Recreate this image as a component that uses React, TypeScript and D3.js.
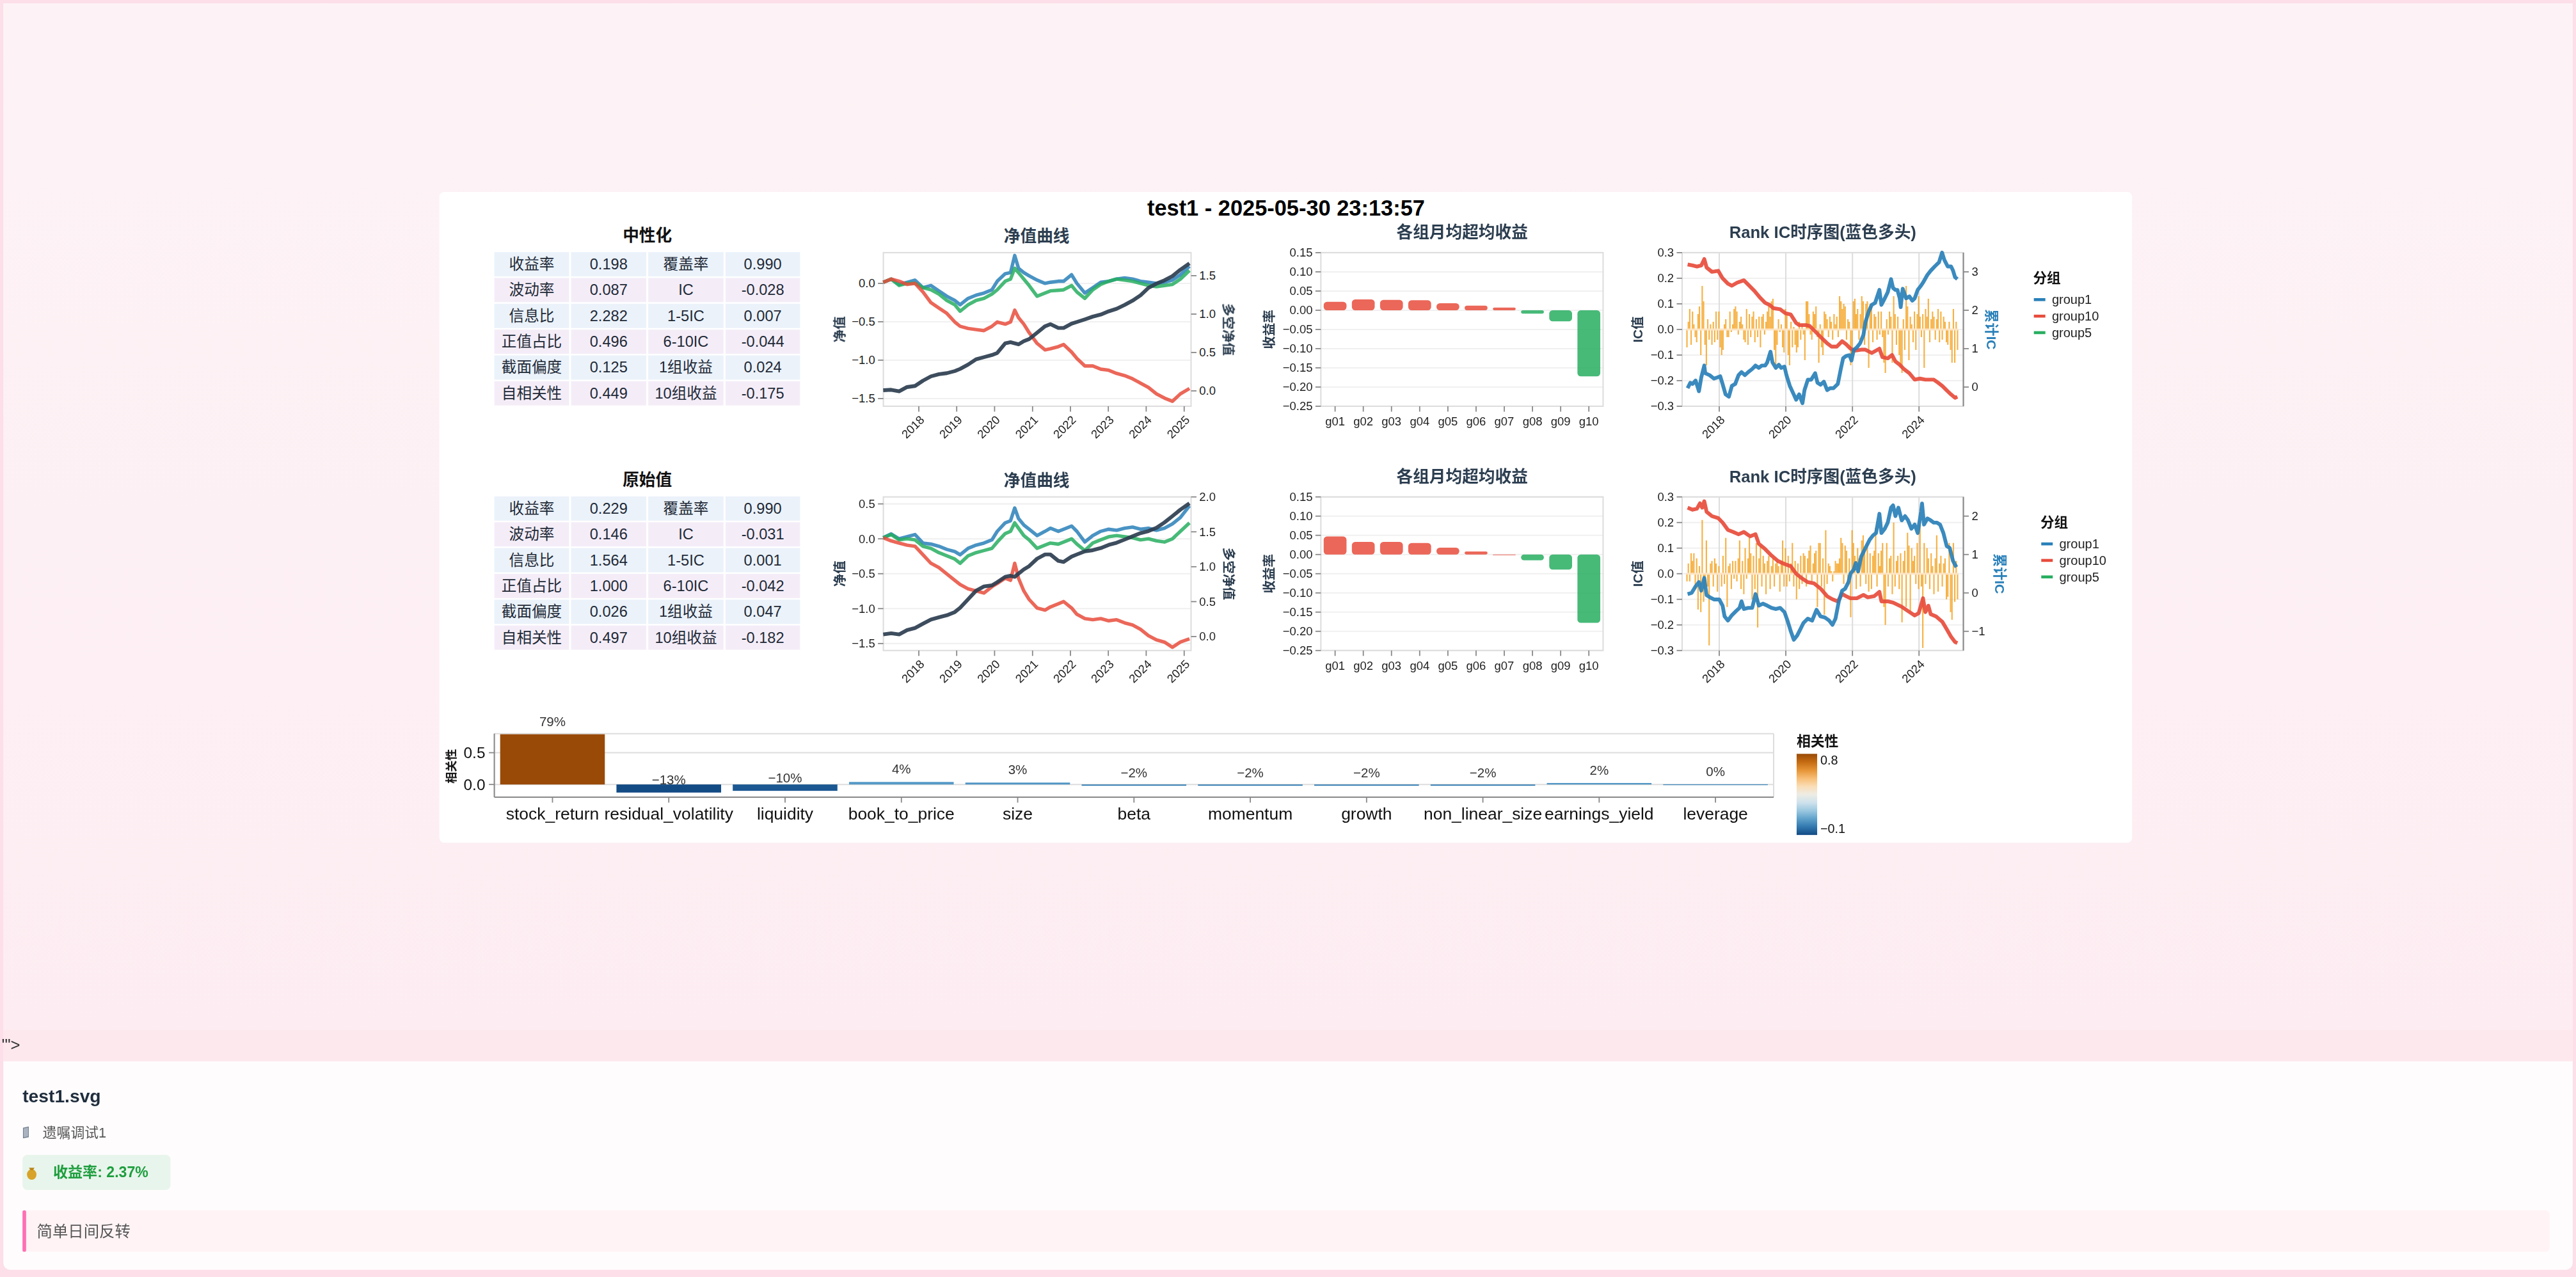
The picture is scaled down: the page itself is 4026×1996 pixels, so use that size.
import React from 'react';
import * as d3 from 'd3';

// 视图坐标（按截图缩放比例 4026/1568 放大）
const VW = 1568;
const VH = 777.38;
const FONT = "'Liberation Sans', Arial, 'Noto Sans CJK SC', sans-serif";
const PLOT_H = 93.5;
const ROW_TOPS = [153.8, 302.5];

// ---------------- 数据 ----------------
const mainTitle = 'test1 - 2025-05-30 23:13:57';

const statNamesA = ['收益率', '波动率', '信息比', '正值占比', '截面偏度', '自相关性'];
const statNamesB = ['覆盖率', 'IC', '1-5IC', '6-10IC', '1组收益', '10组收益'];
const neutralA = ['0.198', '0.087', '2.282', '0.496', '0.125', '0.449'];
const neutralB = ['0.990', '-0.028', '0.007', '-0.044', '0.024', '-0.175'];
const rawA = ['0.229', '0.146', '1.564', '1.000', '0.026', '0.497'];
const rawB = ['0.990', '-0.031', '0.001', '-0.042', '0.047', '-0.182'];

// 净值曲线（年份小数）
const navYears = [2017.06, 2017.27, 2017.48, 2017.69, 2017.9, 2018.11, 2018.32, 2018.53, 2018.74, 2018.95,
  2019.09, 2019.3, 2019.51, 2019.72, 2019.93, 2020.07, 2020.28, 2020.42, 2020.53, 2020.63,
  2020.77, 2020.91, 2021.12, 2021.33, 2021.47, 2021.68, 2021.82, 2022.03, 2022.17, 2022.38,
  2022.59, 2022.8, 2023.01, 2023.22, 2023.43, 2023.64, 2023.85, 2024.06, 2024.27, 2024.48,
  2024.69, 2024.9, 2025.14];

const navN_g1 = [0.014, 0.056, -0.014, 0.014, 0.042, -0.056, -0.028, -0.098, -0.168, -0.223, -0.279, -0.196, -0.154, -0.126, -0.084, 0.028, 0.126, 0.14, 0.363, 0.196, 0.14, 0.098, 0.042, 0.0, 0.014, 0.028, 0.028, 0.112, 0.0, -0.126, -0.056, 0.014, 0.028, 0.056, 0.07, 0.056, 0.028, 0.014, 0.0, 0.014, 0.042, 0.112, 0.223];
const navN_g5 = [0.014, 0.056, -0.028, 0, 0, -0.056, -0.084, -0.14, -0.223, -0.279, -0.363, -0.279, -0.223, -0.196, -0.14, -0.084, 0.028, 0.056, 0.196, 0.14, 0.056, -0.028, -0.168, -0.126, -0.098, -0.09, -0.084, -0.028, -0.112, -0.196, -0.084, -0.014, 0.028, 0.056, 0.042, 0.028, 0.0, -0.028, -0.042, -0.028, -0.014, 0.056, 0.168];
const navN_g10 = [0.014, 0.056, 0.028, -0.014, 0.0, -0.112, -0.251, -0.321, -0.391, -0.503, -0.559, -0.587, -0.601, -0.615, -0.559, -0.503, -0.531, -0.503, -0.349, -0.447, -0.531, -0.642, -0.782, -0.866, -0.852, -0.824, -0.796, -0.894, -0.978, -1.075, -1.075, -1.117, -1.131, -1.173, -1.201, -1.243, -1.299, -1.355, -1.439, -1.494, -1.536, -1.439, -1.369];
const navN_ls = [0.008, 0.014, -0.006, 0.05, 0.064, 0.133, 0.189, 0.217, 0.231, 0.258, 0.286, 0.342, 0.411, 0.439, 0.467, 0.494, 0.619, 0.633, 0.619, 0.606, 0.647, 0.675, 0.758, 0.842, 0.869, 0.819, 0.819, 0.875, 0.897, 0.931, 0.967, 0.994, 1.036, 1.069, 1.119, 1.175, 1.244, 1.342, 1.397, 1.439, 1.494, 1.578, 1.661];

const navR_g1 = [0.015, 0.07, 0, 0.03, 0.061, -0.061, -0.076, -0.107, -0.152, -0.183, -0.229, -0.137, -0.091, -0.061, -0.015, 0.107, 0.229, 0.259, 0.442, 0.29, 0.198, 0.137, 0.046, 0.107, 0.152, 0.107, 0.137, 0.183, 0.107, -0.046, 0.046, 0.107, 0.137, 0.122, 0.152, 0.168, 0.137, 0.152, 0.122, 0.152, 0.213, 0.305, 0.473];
const navR_g5 = [0.015, 0.061, -0.015, 0, -0.015, -0.107, -0.137, -0.198, -0.244, -0.29, -0.351, -0.244, -0.198, -0.168, -0.137, -0.046, 0.076, 0.107, 0.229, 0.152, 0.046, -0.015, -0.137, -0.091, -0.061, -0.076, -0.046, 0, -0.076, -0.168, -0.061, -0.015, 0.03, 0.046, 0.03, 0.015, -0.015, 0, -0.03, -0.046, 0, 0.107, 0.229];
const navR_g10 = [0.015, -0.03, -0.061, -0.091, -0.107, -0.229, -0.351, -0.412, -0.503, -0.595, -0.655, -0.716, -0.747, -0.777, -0.686, -0.64, -0.564, -0.595, -0.351, -0.564, -0.747, -0.869, -0.991, -1.021, -0.976, -0.93, -0.899, -0.991, -1.082, -1.143, -1.159, -1.143, -1.174, -1.159, -1.204, -1.235, -1.296, -1.387, -1.448, -1.479, -1.555, -1.479, -1.433];
const navR_ls = [0.031, 0.046, 0.031, 0.092, 0.122, 0.183, 0.244, 0.275, 0.305, 0.351, 0.412, 0.534, 0.656, 0.718, 0.733, 0.779, 0.855, 0.87, 0.855, 0.901, 0.962, 1.008, 1.115, 1.176, 1.176, 1.084, 1.069, 1.145, 1.176, 1.221, 1.237, 1.267, 1.313, 1.344, 1.389, 1.435, 1.481, 1.511, 1.557, 1.634, 1.725, 1.817, 1.908];

// 各组月均超均收益
const groupNames = ['g01', 'g02', 'g03', 'g04', 'g05', 'g06', 'g07', 'g08', 'g09', 'g10'];
const groupRetN = [0.022, 0.028, 0.027, 0.026, 0.018, 0.012, 0.007, -0.009, -0.029, -0.172];
const groupRetR = [0.047, 0.033, 0.033, 0.03, 0.018, 0.008, 0.0, -0.015, -0.039, -0.178];

// Rank IC（半月一期，起点 2017.03）
const icStart = 2017.03;
const icPerYear = 24;
const icN = [
  -0.07, 0.03, 0.08, -0.06, 0.07, 0.02, -0.03, -0.05, 0.06, 0.09, -0.1, 0.17, 0.11, -0.06, -0.14, 0.04, -0.04, 0.02, -0.06, 0.03, -0.05, 0.07, -0.04, 0.07,
  -0.07, -0.1, -0.08, 0.02, 0.04, -0.03, -0.03, 0.07, -0.01, 0.02, 0.08, 0.09, 0.07, -0.02, 0.03, 0.05, 0.02, -0.04, -0.05, 0.08, -0.06, 0.06, -0.03, 0.05,
  0.07, -0.05, 0.04, -0.03, 0.05, -0.07, 0.05, 0.06, -0.02, 0.03, 0.07, 0.09, 0.05, 0.11, 0.12, -0.08, -0.14, -0.06, 0.04, -0.01, 0.02, -0.07, -0.09, 0.08,
  0.06, -0.1, -0.14, 0.03, -0.07, 0.01, -0.06, -0.09, -0.07, 0.03, -0.04, 0.02, -0.02, -0.12, 0.11, 0.11, 0.06, -0.02, -0.04, 0.07, 0.06, 0.09, -0.03, -0.13,
  0.02, -0.07, -0.1, 0.07, 0.06, 0.04, -0.03, 0.05, 0.03, -0.04, 0.06, 0.02, 0.05, -0.03, 0.13, 0.11, 0.08, 0.1, 0.09, -0.04, 0.04, 0.03, -0.14, -0.1,
  0.11, 0.12, 0.06, 0.08, -0.04, 0.06, 0.13, 0.11, -0.06, 0.1, 0.11, -0.15, 0.1, 0.09, -0.05, 0.06, 0.05, -0.04, 0.07, -0.02, 0.07, -0.03, -0.13, -0.17,
  0.04, -0.02, 0.07, 0.05, -0.13, 0.13, 0.06, -0.06, 0.05, -0.1, -0.15, -0.17, 0.04, -0.08, 0.17, 0.09, -0.12, 0.05, 0.02, -0.05, 0.07, -0.08, 0.06, 0.13,
  0.05, -0.03, 0.06, -0.15, 0.08, 0.05, 0.12, -0.05, 0.04, 0.07, 0.05, -0.04, 0.04, 0.08, -0.05, 0.07, -0.04, 0.05, 0.03, -0.05, -0.06, 0.03, -0.08, -0.13,
  0.08, -0.13, 0.03, -0.08,
];
const icR = [
  -0.03, 0.04, -0.03, 0.08, 0.05, 0.08, -0.06, 0.06, -0.14, 0.03, -0.15, 0.21, -0.11, -0.06, 0.13, -0.05, -0.28, 0.04, 0.05, -0.05, 0.06, 0.04, -0.07, 0.03,
  0.0, -0.05, 0.07, -0.04, 0.14, -0.13, 0.03, 0.04, -0.06, 0.05, -0.02, 0.05, -0.03, 0.06, 0.13, -0.06, 0.05, -0.08, 0.1, -0.02, 0.06, 0.14, 0.08, -0.1,
  0.07, -0.06, 0.12, -0.21, 0.06, 0.11, -0.05, 0.07, 0.04, -0.08, 0.05, 0.07, -0.06, 0.03, 0.06, -0.05, 0.04, 0.05, 0.03, -0.07, 0.05, 0.13, -0.05, 0.1,
  -0.05, 0.07, -0.03, 0.04, 0.12, -0.05, 0.05, -0.1, 0.04, -0.06, 0.07, -0.04, 0.08, 0.07, -0.05, 0.06, 0.09, 0.11, -0.03, 0.04, 0.08, 0.09, -0.13, 0.12,
  0.12, -0.05, 0.06, -0.16, 0.17, -0.04, 0.04, 0.03, 0.01, -0.03, 0.01, 0.05, 0.04, 0.04, 0.06, 0.14, 0.12, -0.04, 0.11, 0.09, -0.04, 0.06, -0.17, 0.17,
  0.12, 0.07, -0.06, 0.1, 0.06, -0.05, 0.13, 0.15, 0.1, -0.04, 0.12, -0.07, 0.08, -0.06, 0.07, 0.09, 0.18, -0.05, 0.08, 0.03, 0.09, 0.12, -0.13, -0.2,
  0.12, -0.05, 0.06, 0.07, -0.08, 0.2, -0.05, 0.05, 0.07, -0.06, 0.08, -0.19, 0.05, 0.09, -0.13, 0.16, 0.11, -0.15, 0.1, 0.05, 0.07, -0.04, 0.12, -0.06,
  0.19, -0.05, -0.29, 0.12, -0.04, 0.1, 0.06, -0.06, 0.08, 0.03, -0.08, 0.06, 0.15, -0.07, 0.04, 0.07, -0.05, 0.04, 0.06, -0.1, -0.09, 0.12, -0.15, -0.18,
  0.12, -0.11, 0.05, -0.1,
];

// 累计IC（右轴）与红线（左轴）：[年份, 值]
const cumIcN: [number, number][] = [[2017.05, -0.03], [2017.13, 0.11], [2017.2, 0.08], [2017.29, 0.17], [2017.39, -0.11], [2017.46, 0.25], [2017.55, 0.56], [2017.58, 0.36], [2017.71, 0.31], [2017.84, 0.22], [2017.94, 0.25], [2018.03, 0.28], [2018.1, 0.08], [2018.19, -0.19], [2018.29, -0.25], [2018.38, 0.03], [2018.48, 0.08], [2018.58, 0.31], [2018.67, 0.39], [2018.77, 0.31], [2018.87, 0.39], [2018.99, 0.47], [2019.09, 0.56], [2019.19, 0.5], [2019.28, 0.56], [2019.38, 0.56], [2019.44, 0.64], [2019.54, 0.92], [2019.6, 0.64], [2019.7, 0.5], [2019.79, 0.58], [2019.86, 0.5], [2019.96, 0.53], [2020.02, 0.31], [2020.12, 0.03], [2020.21, -0.14], [2020.31, -0.33], [2020.4, -0.19], [2020.5, -0.42], [2020.56, -0.08], [2020.66, 0.19], [2020.76, 0.19], [2020.88, 0.36], [2020.95, 0.11], [2021.04, 0.06], [2021.14, 0.14], [2021.24, -0.08], [2021.33, -0.03], [2021.43, -0.03], [2021.56, 0.08], [2021.65, 0.47], [2021.72, 0.75], [2021.81, 0.81], [2021.91, 0.83], [2021.97, 0.69], [2022.04, 0.97], [2022.13, 1.03], [2022.23, 1.14], [2022.33, 1.36], [2022.39, 1.69], [2022.49, 1.97], [2022.58, 2.14], [2022.68, 2.19], [2022.81, 2.53], [2022.87, 2.14], [2022.97, 2.31], [2023.06, 2.47], [2023.16, 2.81], [2023.22, 2.58], [2023.29, 2.53], [2023.35, 2.53], [2023.42, 2.31], [2023.45, 2.08], [2023.51, 2.56], [2023.61, 2.31], [2023.71, 2.36], [2023.8, 2.25], [2023.87, 2.31], [2023.96, 2.53], [2024.06, 2.64], [2024.12, 2.72], [2024.25, 2.92], [2024.35, 3.03], [2024.47, 3.14], [2024.6, 3.25], [2024.69, 3.5], [2024.76, 3.31], [2024.86, 3.14], [2024.96, 3.14], [2025.02, 3.03], [2025.08, 2.86], [2025.15, 2.81]];
const redIcN: [number, number][] = [[2017.05, 0.254], [2017.2, 0.25], [2017.33, 0.246], [2017.46, 0.25], [2017.55, 0.275], [2017.62, 0.242], [2017.78, 0.225], [2017.97, 0.229], [2018.1, 0.2], [2018.26, 0.179], [2018.38, 0.171], [2018.54, 0.183], [2018.74, 0.192], [2018.87, 0.175], [2019.06, 0.15], [2019.22, 0.125], [2019.38, 0.104], [2019.51, 0.096], [2019.63, 0.083], [2019.83, 0.079], [2019.99, 0.063], [2020.15, 0.058], [2020.31, 0.025], [2020.4, 0.017], [2020.6, 0.017], [2020.72, 0.013], [2020.85, -0.004], [2021.04, -0.029], [2021.24, -0.054], [2021.37, -0.067], [2021.53, -0.067], [2021.69, -0.046], [2021.81, -0.058], [2021.94, -0.075], [2022.07, -0.083], [2022.26, -0.079], [2022.39, -0.079], [2022.58, -0.092], [2022.81, -0.075], [2022.9, -0.108], [2023.06, -0.113], [2023.19, -0.1], [2023.29, -0.125], [2023.42, -0.138], [2023.54, -0.154], [2023.71, -0.171], [2023.87, -0.196], [2024.03, -0.192], [2024.19, -0.196], [2024.44, -0.196], [2024.57, -0.208], [2024.7, -0.221], [2024.83, -0.238], [2024.96, -0.254], [2025.08, -0.267], [2025.15, -0.263]];
const cumIcR: [number, number][] = [[2017.05, -0.03], [2017.17, 0.0], [2017.29, 0.17], [2017.39, 0.28], [2017.46, 0.06], [2017.55, 0.39], [2017.62, -0.06], [2017.71, -0.11], [2017.84, -0.17], [2018.0, -0.17], [2018.1, -0.33], [2018.16, -0.61], [2018.26, -0.72], [2018.38, -0.58], [2018.51, -0.47], [2018.61, -0.39], [2018.67, -0.22], [2018.74, -0.42], [2018.87, -0.39], [2018.99, -0.39], [2019.09, -0.03], [2019.19, -0.33], [2019.31, -0.28], [2019.44, -0.33], [2019.57, -0.39], [2019.7, -0.42], [2019.83, -0.39], [2019.96, -0.5], [2020.05, -0.72], [2020.15, -1.0], [2020.24, -1.22], [2020.34, -1.11], [2020.44, -0.94], [2020.53, -0.78], [2020.66, -0.67], [2020.79, -0.72], [2020.92, -0.44], [2021.04, -0.61], [2021.17, -0.64], [2021.3, -0.72], [2021.4, -0.83], [2021.49, -0.67], [2021.59, -0.22], [2021.69, 0.06], [2021.78, 0.11], [2021.88, 0.28], [2021.94, 0.5], [2022.04, 0.61], [2022.1, 0.78], [2022.17, 0.56], [2022.26, 0.94], [2022.39, 1.17], [2022.52, 1.39], [2022.62, 1.5], [2022.71, 1.56], [2022.81, 2.06], [2022.87, 1.56], [2022.97, 1.67], [2023.06, 1.83], [2023.16, 2.22], [2023.22, 2.28], [2023.29, 2.0], [2023.38, 2.22], [2023.48, 1.89], [2023.58, 2.0], [2023.67, 1.89], [2023.77, 1.67], [2023.87, 1.78], [2023.96, 1.56], [2024.06, 2.11], [2024.09, 2.33], [2024.15, 1.78], [2024.25, 1.94], [2024.35, 1.89], [2024.44, 1.83], [2024.54, 1.83], [2024.63, 1.78], [2024.73, 1.56], [2024.83, 1.22], [2024.92, 1.17], [2025.02, 0.83], [2025.12, 0.67]];
const redIcR: [number, number][] = [[2017.05, 0.258], [2017.2, 0.25], [2017.33, 0.254], [2017.42, 0.275], [2017.49, 0.258], [2017.55, 0.283], [2017.62, 0.242], [2017.78, 0.225], [2017.97, 0.217], [2018.1, 0.2], [2018.26, 0.171], [2018.42, 0.163], [2018.58, 0.154], [2018.74, 0.163], [2018.93, 0.146], [2019.09, 0.154], [2019.19, 0.117], [2019.38, 0.096], [2019.57, 0.071], [2019.76, 0.05], [2019.96, 0.038], [2020.15, 0.029], [2020.31, 0.0], [2020.47, -0.017], [2020.66, -0.033], [2020.85, -0.038], [2021.04, -0.058], [2021.24, -0.088], [2021.4, -0.1], [2021.56, -0.108], [2021.69, -0.079], [2021.81, -0.088], [2021.94, -0.096], [2022.13, -0.096], [2022.33, -0.083], [2022.46, -0.092], [2022.65, -0.088], [2022.81, -0.071], [2022.87, -0.108], [2023.06, -0.108], [2023.22, -0.113], [2023.35, -0.121], [2023.48, -0.129], [2023.67, -0.146], [2023.87, -0.163], [2023.99, -0.154], [2024.12, -0.096], [2024.19, -0.15], [2024.28, -0.125], [2024.35, -0.158], [2024.51, -0.167], [2024.7, -0.188], [2024.83, -0.217], [2024.96, -0.246], [2025.08, -0.267], [2025.15, -0.271]];

const legendNames = ['group1', 'group10', 'group5'];

// 风格因子相关性
const factorNames = ['stock_return', 'residual_volatility', 'liquidity', 'book_to_price', 'size', 'beta', 'momentum', 'growth', 'non_linear_size', 'earnings_yield', 'leverage'];
const factorCorr = [0.79, -0.127, -0.1, 0.04, 0.03, -0.02, -0.02, -0.02, -0.02, 0.023, 0.003];

// ---------------- 样式 ----------------
const C_BLUE = '#2980b9';
const C_RED = '#e74c3c';
const C_GREEN = '#27ae60';
const C_DARK = '#2c3e50';
const C_ORANGE = '#f39c12';
const legendColors = [C_BLUE, C_RED, C_GREEN];
const blueOrange = ['#134b85', '#2f78b3', '#5da2cb', '#9dcae1', '#d2e5ef', '#f2f0eb', '#fce0ba', '#fbbf74', '#e8932f', '#c5690d', '#994a07'];

const TICK = '#888';
const LABEL = '#222';

function toDate(y: number) {
  const yr = Math.floor(y);
  const s = Date.UTC(yr, 0, 1);
  const e = Date.UTC(yr + 1, 0, 1);
  return new Date(s + (y - yr) * (e - s));
}

const f1 = d3.format('.1f');
const f2 = d3.format('.2f');
const fpct = d3.format('.0%');

// 统计表
function StatTable({ top, title, a, b }: { top: number; title: string; a: string[]; b: string[] }) {
  const cols = [300.3, 347, 394, 441, 487.6];
  const rowH = 15.72;
  const y0 = top - 0.8;
  return (
    <g>
      <text x={394} y={top - 10.4} textAnchor="middle" dominantBaseline="central" fontSize={10} fontWeight={700} fill="#111">{title}</text>
      {statNamesA.map((n, i) => {
        const y = y0 + i * rowH;
        const fill = i % 2 === 0 ? '#ebf2fa' : '#f4edf8';
        const cells = [n, a[i], statNamesB[i], b[i]];
        return (
          <g key={i}>
            {cells.map((c, j) => (
              <g key={j}>
                <rect x={cols[j] + 0.6} y={y + 0.5} width={cols[j + 1] - cols[j] - 1.2} height={rowH - 1} fill={fill} />
                <text x={(cols[j] + cols[j + 1]) / 2} y={y + rowH / 2} textAnchor="middle" dominantBaseline="central" fontSize={9.2} fill="#1f2a37">{c}</text>
              </g>
            ))}
          </g>
        );
      })}
    </g>
  );
}

// 净值曲线
function NetChart({ top, g1, g5, g10, ls, yDom, yTicks, y2Dom, y2Ticks }: any) {
  const L = 537.7, R = 725, B = top + PLOT_H;
  const x = d3.scaleUtc().domain([toDate(2017.064), toDate(2025.182)]).range([L, R]);
  const y = d3.scaleLinear().domain(yDom).range([B, top]);
  const y2 = d3.scaleLinear().domain(y2Dom).range([B, top]);
  const mk = (sc: any) => d3.line<number>().x((_, i) => x(toDate(navYears[i]))).y((v) => sc(v));
  const years = x.ticks(d3.utcYear.every(1) as any);
  const cy = (top + B) / 2;
  return (
    <g>
      <text x={631} y={top - 10} textAnchor="middle" dominantBaseline="central" fontSize={10} fontWeight={700} fill={C_DARK}>净值曲线</text>
      {yTicks.map((t: number) => <line key={t} x1={L} x2={R} y1={y(t)} y2={y(t)} stroke="#f0f0f0" strokeWidth={0.8} />)}
      <rect x={L} y={top} width={R - L} height={PLOT_H} fill="none" stroke="#ddd" strokeWidth={0.8} />
      <path d={mk(y)(g1) || ''} fill="none" stroke={C_BLUE} strokeWidth={2.1} strokeOpacity={0.85} strokeLinejoin="round" />
      <path d={mk(y)(g5) || ''} fill="none" stroke={C_GREEN} strokeWidth={2.1} strokeOpacity={0.85} strokeLinejoin="round" />
      <path d={mk(y)(g10) || ''} fill="none" stroke={C_RED} strokeWidth={2.1} strokeOpacity={0.85} strokeLinejoin="round" />
      <path d={mk(y2)(ls) || ''} fill="none" stroke={C_DARK} strokeWidth={2.3} strokeOpacity={0.92} strokeLinejoin="round" />
      {yTicks.map((t: number) => (
        <g key={'l' + t}>
          <line x1={L - 3.3} x2={L} y1={y(t)} y2={y(t)} stroke={TICK} strokeWidth={0.7} />
          <text x={L - 5} y={y(t)} textAnchor="end" dominantBaseline="central" fontSize={7.2} fill={LABEL}>{f1(t)}</text>
        </g>
      ))}
      {y2Ticks.map((t: number) => (
        <g key={'r' + t}>
          <line x1={R} x2={R + 3.3} y1={y2(t)} y2={y2(t)} stroke={TICK} strokeWidth={0.7} />
          <text x={R + 5} y={y2(t)} dominantBaseline="central" fontSize={7.2} fill={LABEL}>{f1(t)}</text>
        </g>
      ))}
      {years.map((d) => (
        <g key={+d}>
          <line x1={x(d)} x2={x(d)} y1={B} y2={B + 3.3} stroke={TICK} strokeWidth={0.7} />
          <text transform={`translate(${x(d) + 2},${B + 7}) rotate(-45)`} textAnchor="end" dy="0.35em" fontSize={7.2} fill={LABEL}>{d3.utcFormat('%Y')(d)}</text>
        </g>
      ))}
      <text transform={`translate(511,${cy}) rotate(-90)`} textAnchor="middle" dominantBaseline="central" fontSize={8} fontWeight={700} fill={C_DARK}>净值</text>
      <text transform={`translate(747.8,${cy}) rotate(90)`} textAnchor="middle" dominantBaseline="central" fontSize={8} fontWeight={700} fill={C_DARK}>多空净值</text>
    </g>
  );
}

// 各组月均超均收益
function GroupBars({ top, values }: { top: number; values: number[] }) {
  const L = 804, R = 975.8, B = top + PLOT_H;
  const x = d3.scaleBand().domain(groupNames).range([L, R]).paddingInner(0.19).paddingOuter(0.1);
  const y = d3.scaleLinear().domain([-0.25, 0.15]).range([B, top]);
  const ticks = d3.range(-0.25, 0.1501, 0.05);
  const cy = (top + B) / 2;
  return (
    <g>
      <text x={890} y={top - 12.3} textAnchor="middle" dominantBaseline="central" fontSize={10} fontWeight={700} fill={C_DARK}>各组月均超均收益</text>
      {ticks.map((t) => <line key={t} x1={L} x2={R} y1={y(t)} y2={y(t)} stroke="#f0f0f0" strokeWidth={0.8} />)}
      <rect x={L} y={top} width={R - L} height={PLOT_H} fill="none" stroke="#ddd" strokeWidth={0.8} />
      {values.map((v, i) => {
        const g = groupNames[i];
        const y0 = Math.min(y(v), y(0));
        const h = Math.max(0.4, Math.abs(y(v) - y(0)));
        return <rect key={g} x={x(g)} y={y0} width={x.bandwidth()} height={h} rx={Math.min(2, h / 2)} fill={v >= 0 ? C_RED : C_GREEN} fillOpacity={0.85} />;
      })}
      {ticks.map((t) => (
        <g key={'t' + t}>
          <line x1={L - 3.3} x2={L} y1={y(t)} y2={y(t)} stroke={TICK} strokeWidth={0.7} />
          <text x={L - 5} y={y(t)} textAnchor="end" dominantBaseline="central" fontSize={7.2} fill={LABEL}>{f2(t)}</text>
        </g>
      ))}
      {groupNames.map((g) => {
        const cx = (x(g) || 0) + x.bandwidth() / 2;
        return (
          <g key={'x' + g}>
            <line x1={cx} x2={cx} y1={B} y2={B + 3.3} stroke={TICK} strokeWidth={0.7} />
            <text x={cx} y={B + 9.2} textAnchor="middle" dominantBaseline="central" fontSize={7.2} fill={LABEL}>{g}</text>
          </g>
        );
      })}
      <text transform={`translate(772.7,${cy}) rotate(-90)`} textAnchor="middle" dominantBaseline="central" fontSize={8} fontWeight={700} fill={C_DARK}>收益率</text>
    </g>
  );
}

// Rank IC 时序图
function ICChart({ top, ic, cum, red, y2Dom, y2Ticks, titleX, legendX }: any) {
  const L = 1023.9, R = 1195.1, B = top + PLOT_H;
  const x = d3.scaleUtc().domain([toDate(2016.885), toDate(2025.33)]).range([L, R]);
  const y = d3.scaleLinear().domain([-0.3, 0.3]).range([B, top]);
  const y2 = d3.scaleLinear().domain(y2Dom).range([B, top]);
  const yTicks = [-0.3, -0.2, -0.1, 0, 0.1, 0.2, 0.3];
  const years = x.ticks(d3.utcYear.every(2) as any);
  const bx = (i: number) => x(toDate(icStart + i / icPerYear));
  const lineL = d3.line<[number, number]>().x((d) => x(toDate(d[0]))).y((d) => y(d[1]));
  const lineR = d3.line<[number, number]>().x((d) => x(toDate(d[0]))).y((d) => y2(d[1]));
  const cy = (top + B) / 2;
  return (
    <g>
      <text x={1109.5} y={top - 12.3} textAnchor="middle" dominantBaseline="central" fontSize={10} fontWeight={700} fill={C_DARK}>Rank IC时序图(蓝色多头)</text>
      {yTicks.map((t) => <line key={t} x1={L} x2={R} y1={y(t)} y2={y(t)} stroke="#f0f0f0" strokeWidth={0.8} />)}
      {years.map((d) => <line key={+d} x1={x(d)} x2={x(d)} y1={top} y2={B} stroke="#ddd" strokeWidth={0.8} />)}
      <rect x={L} y={top} width={R - L} height={PLOT_H} fill="none" stroke="#ddd" strokeWidth={0.8} />
      {ic.map((v: number, i: number) => (
        <rect key={i} x={bx(i) - 0.42} y={Math.min(y(v), y(0))} width={0.84} height={Math.abs(y(v) - y(0))} fill={C_ORANGE} fillOpacity={0.78} />
      ))}
      <line x1={bx(0) - 0.4} x2={bx(ic.length - 1) + 0.4} y1={y(0)} y2={y(0)} stroke="#fde4c2" strokeWidth={1.2} />
      <path d={lineL(red) || ''} fill="none" stroke={C_RED} strokeWidth={2.3} strokeOpacity={0.92} strokeLinejoin="round" />
      <path d={lineR(cum) || ''} fill="none" stroke={C_BLUE} strokeWidth={2.3} strokeOpacity={0.92} strokeLinejoin="round" />
      <line x1={R} x2={R} y1={top} y2={B} stroke={TICK} strokeWidth={0.8} />
      {yTicks.map((t) => (
        <g key={'l' + t}>
          <line x1={L - 3.3} x2={L} y1={y(t)} y2={y(t)} stroke={TICK} strokeWidth={0.7} />
          <text x={L - 5} y={y(t)} textAnchor="end" dominantBaseline="central" fontSize={7.2} fill={LABEL}>{f1(t)}</text>
        </g>
      ))}
      {y2Ticks.map((t: number) => (
        <g key={'r' + t}>
          <line x1={R} x2={R + 3.3} y1={y2(t)} y2={y2(t)} stroke={TICK} strokeWidth={0.7} />
          <text x={R + 5} y={y2(t)} dominantBaseline="central" fontSize={7.2} fill={LABEL}>{d3.format('d')(t)}</text>
        </g>
      ))}
      {years.map((d) => (
        <g key={'x' + +d}>
          <line x1={x(d)} x2={x(d)} y1={B} y2={B + 3.3} stroke={TICK} strokeWidth={0.7} />
          <text transform={`translate(${x(d) + 2},${B + 7}) rotate(-45)`} textAnchor="end" dy="0.35em" fontSize={7.2} fill={LABEL}>{d3.utcFormat('%Y')(d)}</text>
        </g>
      ))}
      <text transform={`translate(997,${cy}) rotate(-90)`} textAnchor="middle" dominantBaseline="central" fontSize={8} fontWeight={700} fill={C_DARK}>IC值</text>
      <text transform={`translate(${titleX},${cy}) rotate(90)`} textAnchor="middle" dominantBaseline="central" fontSize={8.2} fontWeight={700} fill={C_BLUE}>累计IC</text>
      <text x={legendX} y={top + 15.6} dominantBaseline="central" fontSize={8.4} fontWeight={700} fill="#111">分组</text>
      {legendNames.map((n, i) => (
        <g key={n}>
          <line x1={legendX + 0.5} x2={legendX + 7.5} y1={top + 28.6 + i * 10.05} y2={top + 28.6 + i * 10.05} stroke={legendColors[i]} strokeWidth={1.8} />
          <text x={legendX + 11.5} y={top + 28.6 + i * 10.05} dominantBaseline="central" fontSize={7.8} fill={LABEL}>{n}</text>
        </g>
      ))}
    </g>
  );
}

// 风格因子相关性
function CorrChart() {
  const L = 300.9, R = 1079.6, T = 446.6, B = 485.3;
  const x = d3.scaleBand().domain(factorNames).range([L, R]).paddingInner(0.1).paddingOuter(0.05);
  const y = d3.scaleLinear().domain([-0.2, 0.8]).range([B, T]);
  const ext = d3.extent(factorCorr) as [number, number];
  const color = d3.scaleSequential(d3.interpolateRgbBasis(blueOrange)).domain(ext);
  const stops = d3.range(0, 1.0001, 0.1);
  return (
    <g>
      <defs>
        <linearGradient id="corrGrad" x1="0" y1="1" x2="0" y2="0">
          {stops.map((s) => <stop key={s} offset={s} stopColor={color(ext[0] + s * (ext[1] - ext[0]))} />)}
        </linearGradient>
      </defs>
      {[0, 0.5].map((t) => <line key={t} x1={L} x2={R} y1={y(t)} y2={y(t)} stroke="#ddd" strokeWidth={0.8} />)}
      <line x1={L} x2={R} y1={T} y2={T} stroke="#ddd" strokeWidth={0.8} />
      <line x1={R} x2={R} y1={T} y2={B} stroke="#ddd" strokeWidth={0.8} />
      {factorCorr.map((v, i) => {
        const f = factorNames[i];
        const y0 = Math.min(y(v), y(0));
        return (
          <g key={f}>
            <rect x={x(f)} y={y0} width={x.bandwidth()} height={Math.max(0.5, Math.abs(y(v) - y(0)))} fill={color(v)} />
            <text x={(x(f) || 0) + x.bandwidth() / 2} y={y(v) - 8} textAnchor="middle" dominantBaseline="central" fontSize={8} fill="#333">{fpct(v)}</text>
          </g>
        );
      })}
      <line x1={L} x2={L} y1={T} y2={B} stroke={TICK} strokeWidth={0.8} />
      <line x1={L} x2={R} y1={B} y2={B} stroke={TICK} strokeWidth={0.8} />
      {[0, 0.5].map((t) => (
        <g key={'t' + t}>
          <line x1={L - 3.3} x2={L} y1={y(t)} y2={y(t)} stroke={TICK} strokeWidth={0.7} />
          <text x={L - 5.5} y={y(t)} textAnchor="end" dominantBaseline="central" fontSize={9.5} fill="#111">{f1(t)}</text>
        </g>
      ))}
      {factorNames.map((f) => {
        const cx = (x(f) || 0) + x.bandwidth() / 2;
        return (
          <g key={'x' + f}>
            <line x1={cx} x2={cx} y1={B} y2={B + 3.3} stroke={TICK} strokeWidth={0.7} />
            <text x={cx} y={B + 10} textAnchor="middle" dominantBaseline="central" fontSize={10.3} fill="#111">{f}</text>
          </g>
        );
      })}
      <text transform="translate(274.8,466.4) rotate(-90)" textAnchor="middle" dominantBaseline="central" fontSize={7} fontWeight={700} fill="#111">相关性</text>
      <text x={1093.6} y={451.1} dominantBaseline="central" fontSize={8.5} fontWeight={700} fill="#111">相关性</text>
      <rect x={1093.6} y={458.9} width={12.5} height={49.4} fill="url(#corrGrad)" />
      <text x={1108} y={462.8} dominantBaseline="central" fontSize={7.7} fill="#111">{f1(0.8)}</text>
      <text x={1108} y={504.4} dominantBaseline="central" fontSize={7.7} fill="#111">{f1(-0.1)}</text>
    </g>
  );
}

const App: React.FC = () => {
  return (
    <svg width={4026} height={1996} viewBox={`0 0 ${VW} ${VH}`} style={{ position: 'fixed', left: 0, top: 0 }} fontFamily={FONT}>
      <defs>
        <linearGradient id="pageBg" x1="0" y1="0" x2="0" y2="1">
          <stop offset="0" stopColor="#fdf3f6" />
          <stop offset="1" stopColor="#fdedf2" />
        </linearGradient>
      </defs>
      {/* 页面背景 */}
      <rect x={0} y={0} width={VW} height={VH} fill="#fcdfe8" />
      <rect x={2} y={2} width={VW - 4} height={625} fill="url(#pageBg)" />
      <rect x={2} y={627} width={VW - 4} height={19} fill="#fde8ee" />
      <path d={`M2,646 H${VW - 2} V768 Q${VW - 2},773 ${VW - 7},773 H7 Q2,773 2,768 Z`} fill="#fffcfd" />

      {/* 图表卡片 */}
      <rect x={267.4} y={116.8} width={1030.4} height={396.2} rx={3} fill="#fff" />
      <text x={782.8} y={126.5} textAnchor="middle" dominantBaseline="central" fontSize={13.4} fontWeight={700} fill="#000">{mainTitle}</text>

      <StatTable top={ROW_TOPS[0]} title="中性化" a={neutralA} b={neutralB} />
      <StatTable top={ROW_TOPS[1]} title="原始值" a={rawA} b={rawB} />

      <NetChart top={ROW_TOPS[0]} g1={navN_g1} g5={navN_g5} g10={navN_g10} ls={navN_ls}
        yDom={[-1.6, 0.4]} yTicks={[-1.5, -1, -0.5, 0]} y2Dom={[-0.2, 1.8]} y2Ticks={[0, 0.5, 1, 1.5]} />
      <NetChart top={ROW_TOPS[1]} g1={navR_g1} g5={navR_g5} g10={navR_g10} ls={navR_ls}
        yDom={[-1.6, 0.6]} yTicks={[-1.5, -1, -0.5, 0, 0.5]} y2Dom={[-0.2, 2.0]} y2Ticks={[0, 0.5, 1, 1.5, 2]} />

      <GroupBars top={ROW_TOPS[0]} values={groupRetN} />
      <GroupBars top={ROW_TOPS[1]} values={groupRetR} />

      <ICChart top={ROW_TOPS[0]} ic={icN} cum={cumIcN} red={redIcN} y2Dom={[-0.5, 3.5]} y2Ticks={[0, 1, 2, 3]} titleX={1212.3} legendX={1237.5} />
      <ICChart top={ROW_TOPS[1]} ic={icR} cum={cumIcR} red={redIcR} y2Dom={[-1.5, 2.5]} y2Ticks={[-1, 0, 1, 2]} titleX={1217.2} legendX={1242} />

      <CorrChart />

      {/* 页面下方信息 */}
      <text x={1} y={636} dominantBaseline="central" fontSize={10} fill="#333">'"&gt;</text>
      <text x={13.7} y={667} dominantBaseline="central" fontSize={11} fontWeight={700} fill="#1f2d3d">test1.svg</text>
      <path d="M14,686.5 L17.5,685.8 L17.5,692.3 L14,693 Z" fill="#6f7d8c" />
      <path d="M14.4,686.9 L17.1,686.3 L17.1,691.8 L14.4,692.4 Z" fill="#a9b4bf" />
      <text x={26} y={689.4} dominantBaseline="central" fontSize={8.5} fill="#555">遗嘱调试1</text>
      <rect x={13.7} y={703} width={90.1} height={21.4} rx={3} fill="#e8f5ec" />
      <ellipse cx={19.3} cy={715} rx={2.9} ry={3.2} fill="#d8a32a" />
      <path d="M17.6,710.9 L21,710.9 L20,712.3 L18.6,712.3 Z" fill="#b9861a" />
      <text x={32.3} y={713.4} dominantBaseline="central" fontSize={9} fontWeight={700} fill="#1e9e3e">收益率: 2.37%</text>
      <rect x={13.7} y={736.8} width={1538.3} height={25.2} rx={2.5} fill="#fff3f5" />
      <rect x={13.7} y={736.8} width={2.2} height={25.2} rx={1} fill="#ff6eb4" />
      <text x={22.4} y={749.7} dominantBaseline="central" fontSize={9.5} fill="#555">简单日间反转</text>
    </svg>
  );
};

export default App;
